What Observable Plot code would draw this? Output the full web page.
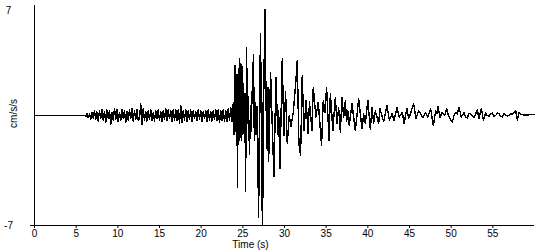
<!DOCTYPE html>
<html>
<head>
<meta charset="utf-8">
<script src="https://cdn.jsdelivr.net/npm/d3@7"></script>
<script src="https://cdn.jsdelivr.net/npm/@observablehq/plot@0.6"></script>
<style>
  html, body { margin: 0; padding: 0; background: #fff; }
  #chart svg { display: block; }
</style>
</head>
<body>
<div id="chart"></div>
<script>
// Tick labels
const xTicks = [0, 5, 10, 15, 20, 25, 30, 35, 40, 45, 50, 55];
const yTicks = [-7, 7];
const xLabel = "Time (s)";
const yLabel = "cm/s/s";

// Acceleration trace, [time (s), acceleration (cm/s/s)]
const preEvent = [[0, 0], [6.0, 0]];

const noise = [
  [6.15,-0.08],[6.30,0.12],[6.45,-0.15],[6.60,0.10],[6.75,-0.22],[6.90,0.20],[7.05,-0.18],[7.20,0.30],[7.35,-0.25],
  [7.50,0.22],[7.65,-0.35],[7.80,0.30],[7.95,-0.20],[8.10,0.40],[8.25,-0.30],[8.40,0.25],[8.55,-0.45],[8.70,0.35],[8.85,-0.20],
  [9.00,0.30],[9.15,-0.55],[9.30,0.20],[9.45,-0.30],[9.60,0.45],[9.75,-0.25],[9.90,0.35],[10.05,-0.40],[10.20,0.20],[10.35,-0.30],
  [10.50,0.40],[10.65,-0.20],[10.80,0.30],[10.95,-0.45],[11.10,0.25],[11.25,-0.30],[11.40,0.35],[11.55,-0.20],[11.70,0.45],[11.85,-0.35],
  [12.00,0.30],[12.15,-0.25],[12.30,0.35],[12.45,-0.30],[12.60,-0.20],[12.75,0.75],[12.90,-0.55],[13.05,0.45],[13.20,-0.30],[13.35,0.25],
  [13.50,-0.35],[13.65,0.30],[13.80,-0.25],[13.95,0.40],[14.10,-0.30],[14.25,0.20],[14.40,-0.35],[14.55,0.30],[14.70,-0.20],[14.85,0.35],
  [15.00,-0.30],[15.15,0.25],[15.30,-0.40],[15.45,0.30],[15.60,-0.25],[15.75,0.45],[15.90,-0.30],[16.05,0.35],[16.20,-0.20],[16.35,0.30],
  [16.50,-0.35],[16.65,0.40],[16.80,-0.30],[16.95,0.35],[17.10,-0.30],[17.25,0.40],[17.40,-0.50],[17.55,0.65],[17.70,-0.45],[17.85,0.30],
  [18.00,-0.30],[18.15,0.40],[18.30,-0.35],[18.45,0.30],[18.60,-0.25],[18.75,0.35],[18.90,-0.40],[19.05,0.30],[19.20,-0.20],[19.35,0.25],
  [19.50,-0.30],[19.65,0.35],[19.80,-0.25],[19.95,0.30],[20.10,-0.40],[20.25,0.25],[20.40,-0.20],[20.55,0.30],[20.70,-0.35],[20.85,0.40],
  [21.00,-0.30],[21.15,0.25],[21.30,-0.35],[21.45,0.30],[21.60,-0.25],[21.75,0.35],[21.90,-0.30],[22.05,0.40],[22.20,-0.45],[22.35,0.30],
  [22.50,-0.30],[22.65,0.35],[22.80,-0.40],[22.95,0.30],[23.10,-0.35],[23.25,0.45],[23.40,-0.30],[23.55,0.50],[23.70,-0.40],[23.85,0.80]
];

const strong = [
  [23.95,-1.2],[24.05,3.2],[24.15,-1.0],[24.25,2.6],[24.37,-4.6],[24.45,3.0],[24.52,-1.6],[24.60,3.6],[24.68,-1.4],[24.76,3.3],
  [24.84,-1.6],[24.92,3.1],[25.00,-1.2],[25.08,2.0],[25.16,-0.6],[25.24,1.4],[25.33,-4.8],[25.45,4.3],[25.55,-0.5],[25.65,1.2],
  [25.80,-2.5],[25.92,0.6],[26.00,-1.0],[26.10,1.2],[26.28,3.9],[26.38,-1.6],[26.48,0.8],[26.58,-1.2],[26.70,0.6],[26.90,-6.5],
  [27.00,1.2],[27.13,5.2],[27.22,-0.8],[27.28,-6.05],[27.32,0.8],[27.37,-6.9],[27.50,1.0],[27.65,6.75],[27.80,0.4],[27.93,-2.2],
  [28.02,1.8],[28.10,-2.9],[28.33,2.75],[28.73,-3.9],[28.97,2.4],[29.20,-1.2],[29.30,0.3],[29.45,-3.4],[29.73,3.6],[29.93,-1.3],
  [30.13,1.5],[30.33,-1.8],[30.57,0.0],[30.77,-0.7],[31.05,0.2],[31.37,2.2],[31.53,3.5],[31.73,-1.8],[31.93,-2.55],[32.13,2.55],
  [32.33,-0.95],[32.60,0.95],[32.82,-1.15],[33.00,0.85],[33.30,-0.95],[33.45,1.8],[33.77,-0.1],[34.05,0.85],[34.45,-1.9],[34.65,0.95],
  [34.85,0.2],[35.05,1.8],[35.35,-1.6]
];

const coda = [
  [35.50,1.4],[35.65,0.3],[35.80,-0.95],[36.10,1.15],[36.30,-0.5],[36.50,0.5],[36.70,-1.05],[36.90,1.15],[37.10,-0.1],[37.30,0.95],
  [37.45,-0.4],[37.60,0.3],[37.77,-0.6],[38.10,0.75],[38.50,-0.95],[38.90,1.05],[39.30,-0.85],[39.50,0.1],[39.70,-0.5],[40.00,0.95],
  [40.30,-0.85],[40.50,0.5],[40.70,-0.5],[40.90,0.3],[41.30,-0.5],[41.45,0.45],[41.90,-0.4],[42.29,0.65],[42.58,-0.3],[42.90,0.1],
  [43.15,-0.3],[43.50,0.5],[43.75,-0.1],[44.15,0.2],[44.35,-0.5],[44.69,0.45],[44.90,-0.2],[45.10,0.1],[45.50,0.75],[45.77,-0.2],
  [46.10,0.3]
];

const lateCoda = [
  [46.34,0.1],[46.60,-0.15],[46.94,0.2],[47.20,-0.1],[47.54,0.43],[47.86,-0.64],[48.14,0.3],[48.30,0.1],[48.42,0.57],[48.66,-0.1],
  [48.94,0.2],[49.22,0.0],[49.46,0.43],[49.66,0.0],[49.86,-0.2],[50.14,-0.43],[50.34,0.0],[50.54,0.2],[50.74,0.1],[50.94,0.53],
  [51.22,-0.1],[51.54,0.2],[51.74,-0.1],[51.94,-0.15],[52.14,0.15],[52.34,0.1],[52.54,-0.05],[52.74,-0.1],[52.94,0.1],[53.14,0.35],
  [53.34,-0.2],[53.63,0.45],[53.87,-0.3],[54.14,0.15],[54.34,0.0],[54.54,-0.05],[54.74,0.1],[54.94,0.15],[55.14,-0.05],[55.34,0.0],
  [55.54,0.15],[55.74,0.1],[55.94,-0.05],[56.15,-0.1],[56.34,0.1],[56.54,0.05],[56.74,-0.05],[56.94,0.0],[57.15,0.1],[57.35,0.1],
  [57.74,0.3],[57.95,-0.3],[58.14,0.2],[58.35,0.05],[58.55,0.05],[59.00,0.03],[59.50,0.05],[60.00,0.05]
];

const trace = [...preEvent, ...noise, ...strong, ...coda, ...lateCoda].map(([t, a]) => ({t, a}));

const font = "'Liberation Sans', Arial, sans-serif";

const chart = Plot.plot({
  width: 550,
  height: 250,
  marginLeft: 34,
  marginRight: 16,
  marginTop: 5,
  marginBottom: 25,
  style: {fontFamily: font, fontSize: "10px", color: "#000", background: "#fff", overflow: "visible"},
  x: {domain: [0, 60], axis: null},
  y: {domain: [-7, 7], axis: null},
  marks: [
    Plot.line(trace, {x: "t", y: "a", stroke: "#000", strokeWidth: 1.4, shapeRendering: "crispEdges"}),
    Plot.ruleX([0], {stroke: "#000", shapeRendering: "crispEdges"}),
    Plot.ruleY([-7], {stroke: "#000", insetLeft: -4, shapeRendering: "crispEdges"}),
    Plot.axisX(xTicks, {tickSize: 3, tickPadding: 1, fontSize: 10, stroke: "#000", fill: "#000", label: null}),
    Plot.text([xLabel], {frameAnchor: "bottom", dx: -34, dy: 15, lineAnchor: "top", fontSize: 10, fill: "#000"}),
    Plot.text([yTicks[1]], {frameAnchor: "top-left", text: d => String(d), dx: -26, dy: 1, lineAnchor: "top", textAnchor: "middle", fontSize: 10, fill: "#000"}),
    Plot.text([yTicks[0]], {frameAnchor: "bottom-left", text: d => String(d), dx: -26, lineAnchor: "middle", textAnchor: "middle", fontSize: 10, fill: "#000"}),
    Plot.text([yLabel], {frameAnchor: "left", dx: -21, dy: -2, rotate: -90, textAnchor: "middle", fontSize: 10, fill: "#000"})
  ]
});

document.getElementById("chart").appendChild(chart);
</script>
</body>
</html>
